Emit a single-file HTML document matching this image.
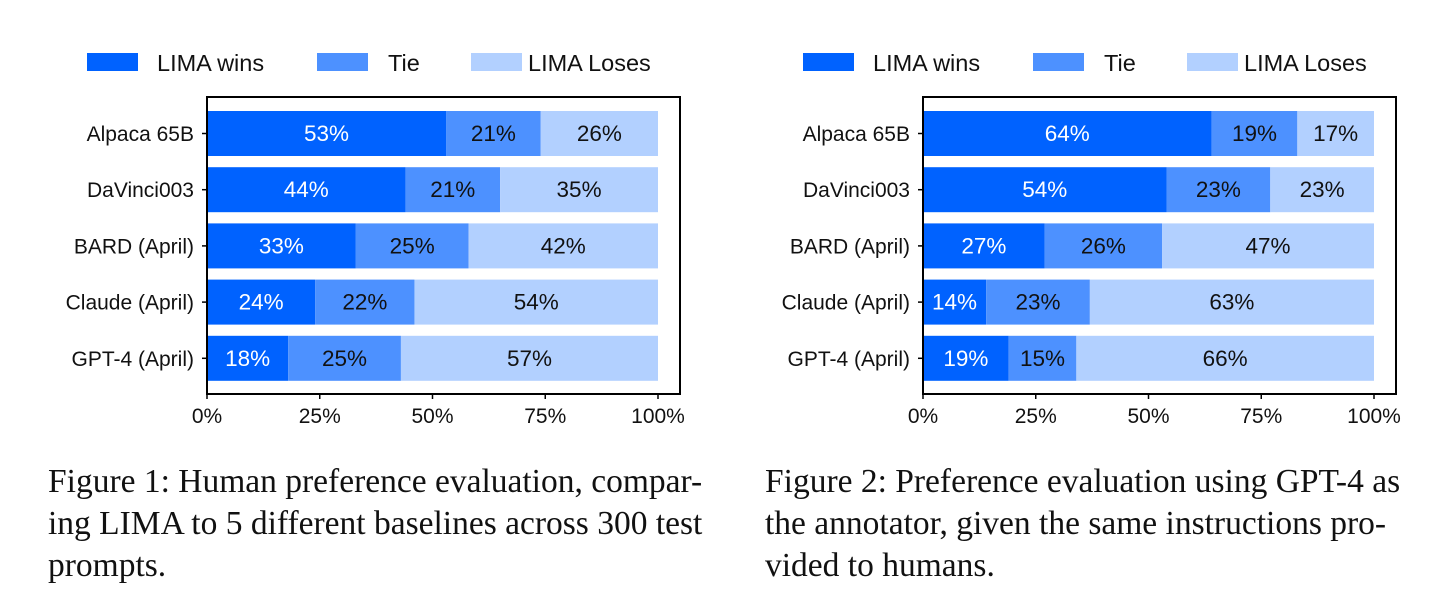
<!DOCTYPE html>
<html><head><meta charset="utf-8"><style>
body{margin:0;background:#fff;width:1456px;height:615px;overflow:hidden}
.cap{position:absolute;font-family:"Liberation Serif",serif;font-size:33.5px;line-height:42px;color:#111;white-space:nowrap}
</style></head><body>
<svg id="svg" width="1456" height="615" style="position:absolute;left:0;top:0" font-family="Liberation Sans, DejaVu Sans, sans-serif"></svg>
<div class="cap" style="left:48px;top:461px;">Figure 1: Human preference evaluation, compar-<br>ing LIMA to 5 different baselines across 300 test<br>prompts.</div>
<div class="cap" style="left:765px;top:461px;">Figure 2: Preference evaluation using GPT-4 as<br>the annotator, given the same instructions pro-<br>vided to humans.</div>
<script>
const categories=["Alpaca 65B","DaVinci003","BARD (April)","Claude (April)","GPT-4 (April)"];
const wins1=[53,44,33,24,18];
const tie1=[21,21,25,22,25];
const lose1=[26,35,42,54,57];
const wins2=[64,54,27,14,19];
const tie2=[19,23,26,23,15];
const lose2=[17,23,47,63,66];
const ticks=[0,25,50,75,100];
const seriesNames=["LIMA wins","Tie","LIMA Loses"];
const colors=["#0062ff","#4d91ff","#b2d0ff"];
const NS="http://www.w3.org/2000/svg";
const svg=document.getElementById('svg');
function mk(t,a,p){const e=document.createElementNS(NS,t);for(const k in a)e.setAttribute(k,a[k]);(p||svg).appendChild(e);return e;}
function chart(ox,series,id){
  const g=mk('g',{});
  
  
  const x0=ox+207,x1=ox+658,fr=ox+680,top=97,bot=394;
  const xs=v=>x0+(x1-x0)*v/100;
  const yb=i=>111+i*56.2;
  const lx=[ox+87,ox+317,ox+471],tx=[ox+157,ox+388,ox+528];
  seriesNames.forEach((n,j)=>{
    const r=mk('rect',{x:lx[j],y:53,width:51,height:18,fill:colors[j]},g);
    
    
    const t=mk('text',{x:tx[j],y:71,'font-size':23.5,fill:'#111'},g);t.textContent=n;
    
    
  });
  categories.forEach((c,i)=>{
    let acc=0;
    series.forEach((s,j)=>{
      const v=s[i];
      const r=mk('rect',{x:xs(acc),y:yb(i),width:xs(acc+v)-xs(acc),height:45,fill:colors[j]},g);
      
      
      const t=mk('text',{x:(xs(acc)+xs(acc+v))/2,y:yb(i)+30,'font-size':22.5,'text-anchor':'middle',fill:j==0?'#fff':'#111'},g);
      t.textContent=v+'%';
      
      
      acc+=v;
    });
    mk('line',{x1:x0-5,x2:x0,y1:yb(i)+22.5,y2:yb(i)+22.5,stroke:'#000','stroke-width':1.5},g);
    const t=mk('text',{x:x0-13,y:yb(i)+30,'font-size':21,'text-anchor':'end',fill:'#111'},g);
    t.textContent=c;
    
    
  });
  mk('rect',{x:x0,y:top,width:fr-x0,height:bot-top,fill:'none',stroke:'#000','stroke-width':2},g);
  ticks.forEach(v=>{
    mk('line',{x1:xs(v),x2:xs(v),y1:bot,y2:bot+5,stroke:'#000','stroke-width':1.5},g);
    const t=mk('text',{x:xs(v),y:bot+29,'font-size':21,'text-anchor':'middle',fill:'#111'},g);
    t.textContent=v+'%';
    
    
  });
}
chart(0,[wins1,tie1,lose1],'chart-human-preference');
chart(716,[wins2,tie2,lose2],'chart-gpt4-preference');
</script>
</body></html>
